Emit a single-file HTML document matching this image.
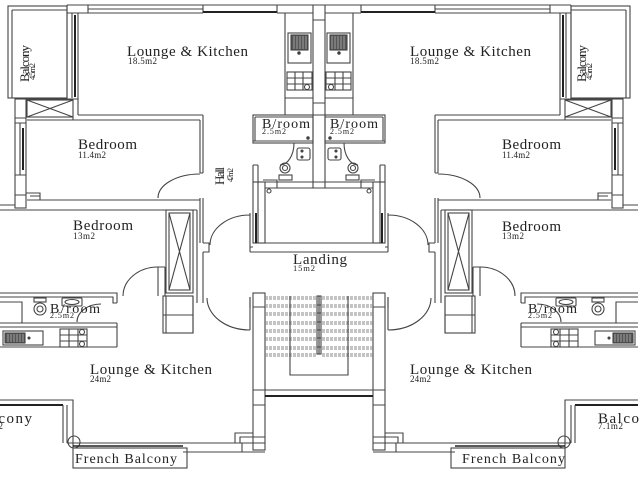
<!DOCTYPE html>
<html><head><meta charset="utf-8">
<style>
html,body{margin:0;padding:0;background:#fff;width:640px;height:480px;overflow:hidden}
svg{display:block}
text{font-family:"Liberation Serif",serif;fill:#222}
</style></head><body>
<svg width="640" height="480" viewBox="0 0 640 480" xmlns="http://www.w3.org/2000/svg" xmlns:xlink="http://www.w3.org/1999/xlink">
<rect width="640" height="480" fill="#fff"/>
<defs>
<g id="L" fill="none" stroke="#444" stroke-width="1.1">
  <!-- top wall -->
  <path d="M67,5H319 M67,13H88 M88,9H203 M88,13H203 M277,13H313 M67,5V13 M88,5V13 M203,5V13 M277,5V13"/>
  <path d="M203,12H277" stroke="#222" stroke-width="2"/>
  <!-- centre column -->
  <path d="M313,5V188 M313,20H319 M313,103H319 M313,115H319"/>
  <!-- balcony upper -->
  <rect x="8" y="6" width="59" height="92"/>
  <path d="M12,10V98 M12,10H67"/>
  <path d="M67,13V100 M72,13V98 M78,13V115"/>
  <path d="M75,15V97" stroke="#222" stroke-width="2"/>
  <!-- cupboard under balcony -->
  <path d="M15,99H78"/>
  <rect x="27" y="100" width="46" height="17"/>
  <path d="M27,100L73,117 M73,100L27,117"/>
  <!-- left column -->
  <rect x="15" y="99" width="11" height="109"/>
  <path d="M15,118H26 M15,123H26 M15,175H26 M15,195H26 M20,123V175"/>
  <path d="M23,128V170" stroke="#222" stroke-width="2"/>
  <!-- lounge/bedroom wall -->
  <path d="M78,115H203 M27,120H200 M73,117V120"/>
  <path d="M200,120V173 M203,115V173 M200,173H203"/>
  <path d="M158,198 A42,24 0 0 1 200,174"/>
  <!-- bedroom bottom wall -->
  <path d="M27,200H200 M0,210H197 M0,205H15 M26,193H40V200 M30,196H40"/>
  <path d="M200,198V243 M203,198V243 M203,243H209V252H203 M197,210V303 M203,252V303"/>
  <!-- bedroom 13 cupboard -->
  <rect x="166" y="210" width="27" height="83"/>
  <rect x="169" y="213" width="21" height="77"/>
  <path d="M169,213L190,290 M190,213L169,290"/>
  <rect x="163" y="296" width="30" height="37"/>
  <path d="M163,315H193 M166,296V333 M193,296V333"/>
  <!-- bedroom 13 bottom wall -->
  <path d="M0,293H117V303 M0,297H113V303H117"/>
  <path d="M158,267V296 M165,267V296 M158,267H165 M165,293H166"/>
  <path d="M123,296 A35,29 0 0 1 158,267"/>
  <!-- lower bathroom -->
  <path d="M0,302H22V323 M0,323H117 M0,327H117 M117,323V347 M0,347H117"/>
  <circle cx="40" cy="309" r="6"/>
  <circle cx="40" cy="309" r="3"/>
  <rect x="34" y="298" width="12" height="4"/>
  <rect x="62" y="298" width="20" height="8" rx="1"/>
  <ellipse cx="72" cy="302" rx="7" ry="2.5"/>
  <path d="M77,322 A24,18 0 0 1 101,304"/>
  <!-- lower kitchen counter -->
  <rect x="3" y="331" width="40" height="14"/>
  <rect x="5" y="333" width="20" height="10" fill="#555"/>
  <path d="M8,334V342 M11,334V342 M14,334V342 M17,334V342 M20,334V342 M23,334V342" stroke="#999"/>
  <circle cx="29" cy="338" r="1" fill="#333"/>
  <rect x="60" y="329" width="27" height="18"/>
  <path d="M69,329V347 M78,329V347 M60,335H87 M60,341H87"/>
  <circle cx="82" cy="332" r="2.5"/>
  <circle cx="82" cy="344" r="2.5"/>
  <!-- stair door -->
  <path d="M207,298 A43,32 0 0 0 250,330 M250,297V330"/>
  <!-- stair wall -->
  <rect x="253" y="293" width="12" height="157"/>
  <path d="M253,307H265 M253,390H265 M253,405H265 M253,437H265 M250,297V308"/>
  <!-- steps -->
  <g stroke-dasharray="3,1" stroke="#888" stroke-width="1">
    <path d="M265,297H317 M265,299H317 M265,305H317 M265,307H317 M265,313H317 M265,315H317 M265,322H317 M265,324H317 M265,330H317 M265,332H317 M265,338H317 M265,340H317 M265,347H317 M265,349H317 M265,354H317 M265,356H317"/>
  </g>
  <rect x="317" y="296" width="2" height="58"/>
  <path d="M317,305H319 M317,313H319 M317,322H319 M317,330H319 M317,338H319 M317,347H319"/>
  <path d="M290,296V375H319"/>
  <path d="M265,390H319"/>
  <path d="M265,396H319" stroke="#222" stroke-width="2"/>
  <!-- bottom wall -->
  <path d="M183,443H265 M183,452H265 M242,443V452 M235,443V433H253 M240,443V437H253"/>
  <!-- lower balcony -->
  <path d="M0,400H73V448"/>
  <path d="M0,405H63" stroke="#222" stroke-width="2"/>
  <path d="M63,405V443 M67,405V443"/>
  <circle cx="74" cy="442" r="6"/>
  <path d="M67,443H183"/>
  <path d="M73,446H183" stroke="#222" stroke-width="1.5"/>
  <rect x="73" y="448" width="114" height="20"/>
  <!-- landing door (upper) -->
  <path d="M210,245 A40,30 0 0 1 250,215 M250,213V247"/>
  <!-- lift block -->
  <rect x="253" y="182" width="12" height="61"/>
  <path d="M258,182V243"/>
  <path d="M256,213V243" stroke="#222" stroke-width="2"/>
  <path d="M253,182H319 M265,188H319 M265,243H319 M250,247H253 M250,252H319 M250,247V252"/>
  <circle cx="269" cy="191" r="2"/>
  <!-- upper bathroom -->
  <rect x="253" y="115" width="60" height="28"/>
  <path d="M255,117H313 M255,117V141 M253,141H313"/>
  <path d="M253,165V182 M258,165V182 M253,165H258"/>
  <path d="M294,143 A14,22 0 0 1 280,165"/>
  <circle cx="285" cy="168" r="5"/>
  <circle cx="285" cy="168" r="2.5"/>
  <rect x="279" y="175" width="13" height="5"/>
  <rect x="297" y="148" width="13" height="12" rx="2"/>
  <circle cx="302" cy="151" r="1" fill="#333"/>
  <circle cx="302" cy="157" r="1" fill="#333"/>
  <circle cx="308" cy="138" r="1.2" fill="#333"/>
  <path d="M263,180H277V188"/>
  <!-- upper kitchen -->
  <path d="M285,13V115 M285,98H313 M285,115H313"/>
  <rect x="288" y="33" width="23" height="30"/>
  <rect x="291" y="35" width="17" height="15" fill="#555"/>
  <path d="M294,36V49 M297,36V49 M300,36V49 M303,36V49 M306,36V49" stroke="#999"/>
  <circle cx="299" cy="53" r="1.2" fill="#333"/>
  <rect x="287" y="72" width="25" height="18"/>
  <path d="M295,72V90 M303,72V90 M287,78H312 M287,84H312"/>
  <circle cx="307" cy="87" r="2.5"/>
</g>
</defs>
<use href="#L" xlink:href="#L"/>
<use href="#L" xlink:href="#L" transform="translate(638,0) scale(-1,1)"/>

<!-- labels -->
<text x="127" y="56" font-size="15" textLength="121" lengthAdjust="spacing">Lounge &amp; Kitchen</text>
<text x="128" y="64" font-size="9" textLength="29" lengthAdjust="spacing">18.5m2</text>
<text x="410" y="56" font-size="15" textLength="121" lengthAdjust="spacing">Lounge &amp; Kitchen</text>
<text x="410" y="64" font-size="9" textLength="29" lengthAdjust="spacing">18.5m2</text>

<text x="78" y="149" font-size="15" textLength="59" lengthAdjust="spacing">Bedroom</text>
<text x="78" y="158" font-size="9" textLength="28" lengthAdjust="spacing">11.4m2</text>
<text x="502" y="149" font-size="15" textLength="59" lengthAdjust="spacing">Bedroom</text>
<text x="502" y="158" font-size="9" textLength="28" lengthAdjust="spacing">11.4m2</text>

<text x="73" y="230" font-size="15" textLength="60" lengthAdjust="spacing">Bedroom</text>
<text x="73" y="239" font-size="9" textLength="22" lengthAdjust="spacing">13m2</text>
<text x="502" y="231" font-size="15" textLength="59" lengthAdjust="spacing">Bedroom</text>
<text x="502" y="239" font-size="9" textLength="22" lengthAdjust="spacing">13m2</text>

<text x="262" y="128" font-size="14" textLength="48" lengthAdjust="spacing">B/room</text>
<text x="262" y="134" font-size="8" textLength="24" lengthAdjust="spacing">2.5m2</text>
<text x="330" y="128" font-size="14" textLength="48" lengthAdjust="spacing">B/room</text>
<text x="330" y="134" font-size="8" textLength="24" lengthAdjust="spacing">2.5m2</text>

<text x="293" y="264" font-size="15" textLength="54" lengthAdjust="spacing">Landing</text>
<text x="293" y="271" font-size="8.5" textLength="22" lengthAdjust="spacing">15m2</text>

<text x="50" y="313" font-size="14" textLength="50" lengthAdjust="spacing">B/room</text>
<text x="50" y="318" font-size="8" textLength="24" lengthAdjust="spacing">2.5m2</text>
<text x="528" y="313" font-size="14" textLength="49" lengthAdjust="spacing">B/room</text>
<text x="528" y="318" font-size="8" textLength="24" lengthAdjust="spacing">2.5m2</text>

<text x="90" y="374" font-size="15" textLength="122" lengthAdjust="spacing">Lounge &amp; Kitchen</text>
<text x="90" y="382" font-size="9" textLength="21" lengthAdjust="spacing">24m2</text>
<text x="410" y="374" font-size="15" textLength="122" lengthAdjust="spacing">Lounge &amp; Kitchen</text>
<text x="410" y="382" font-size="9" textLength="21" lengthAdjust="spacing">24m2</text>

<text x="75" y="463" font-size="14" textLength="102" lengthAdjust="spacing">French Balcony</text>
<text x="462" y="463" font-size="14" textLength="103" lengthAdjust="spacing">French Balcony</text>

<text x="-27" y="423" font-size="15" textLength="59" lengthAdjust="spacing">Balcony</text>
<text x="-22" y="429" font-size="9" textLength="25" lengthAdjust="spacing">7.1m2</text>
<text x="598" y="423" font-size="15" textLength="59" lengthAdjust="spacing">Balcony</text>
<text x="598" y="429" font-size="9" textLength="25" lengthAdjust="spacing">7.1m2</text>

<!-- rotated labels -->
<text transform="translate(29,82) rotate(-90)" font-size="13" textLength="37" lengthAdjust="spacing">Balcony</text>
<text transform="translate(35,80) rotate(-90)" font-size="8.5" textLength="17" lengthAdjust="spacing">4.5m2</text>
<text transform="translate(586,82) rotate(-90)" font-size="13" textLength="37" lengthAdjust="spacing">Balcony</text>
<text transform="translate(592,80) rotate(-90)" font-size="8.5" textLength="17" lengthAdjust="spacing">4.5m2</text>

<text transform="translate(224,185) rotate(-90)" font-size="13" textLength="18" lengthAdjust="spacing">Hall</text>
<text transform="translate(233,182) rotate(-90)" font-size="8" textLength="14" lengthAdjust="spacing">4.7m2</text>
</svg>
</body></html>
